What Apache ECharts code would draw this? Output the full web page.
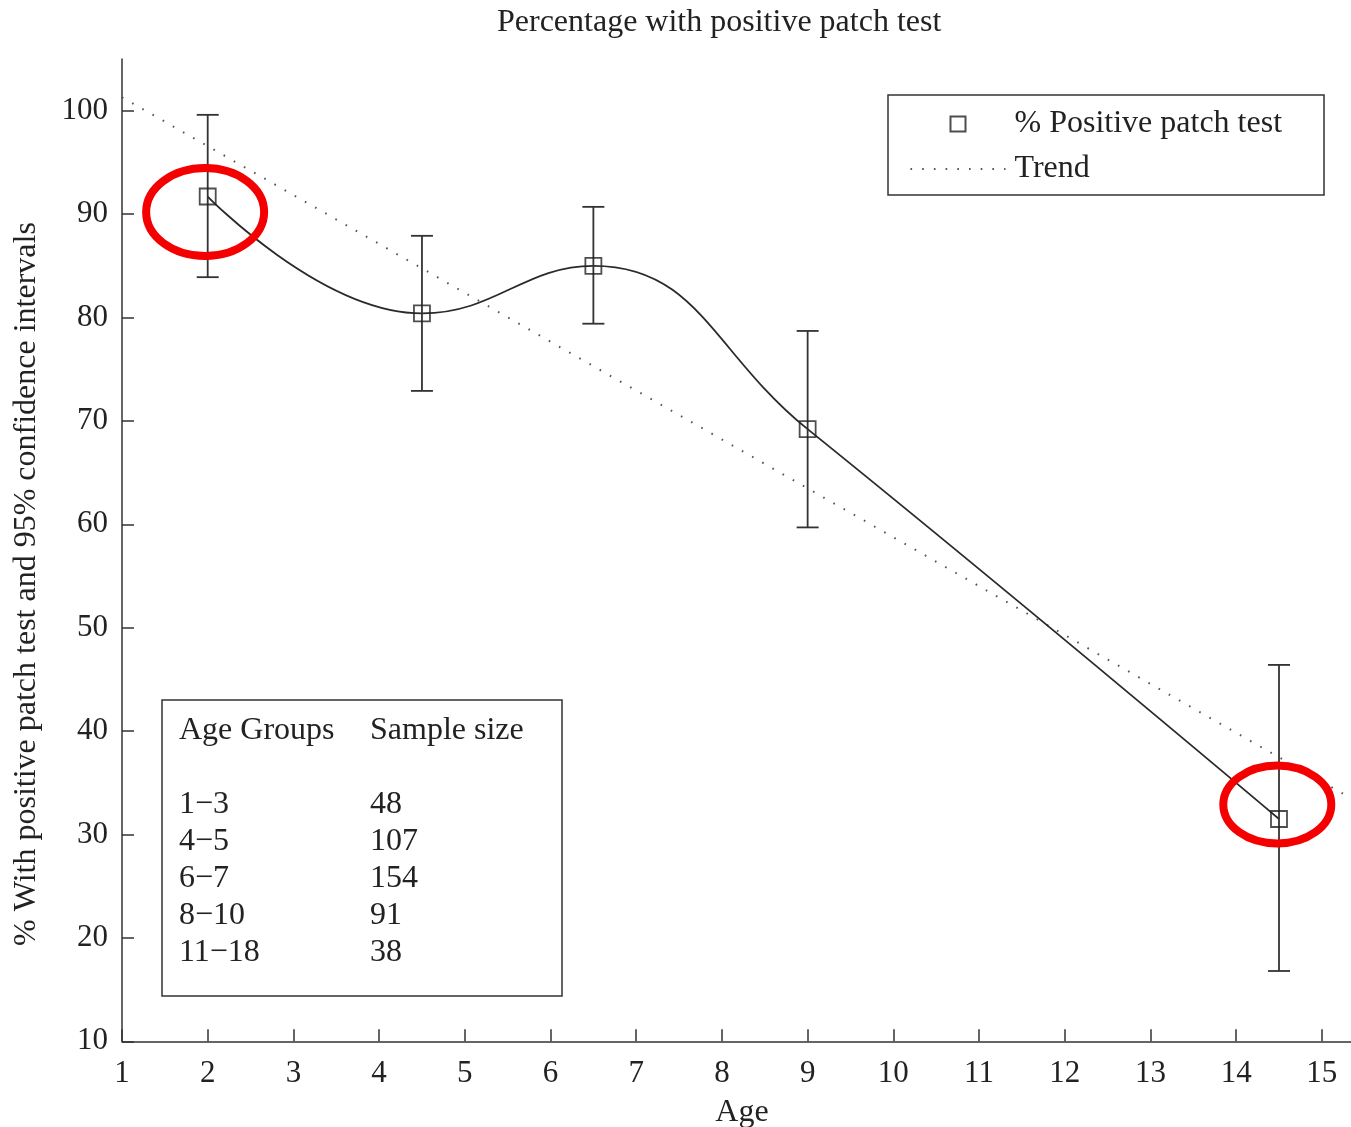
<!DOCTYPE html>
<html>
<head>
<meta charset="utf-8">
<script src="https://cdn.jsdelivr.net/npm/echarts@6/dist/echarts.min.js"></script>
<style>
html,body{margin:0;padding:0;background:#fff;overflow:hidden;}
#chart{width:1351px;height:1127px;}
</style>
</head>
<body>
<div id="chart"></div>
<script>
// ---- data ----
const titleText = 'Percentage with positive patch test';
const xAxisName = 'Age';
const yAxisName = '% With positive patch test and 95% confidence intervals';
const ageMid = [2, 4.5, 6.5, 9, 14.5];
const pctPositive = [91.7, 80.4, 85.0, 69.2, 31.5];
const ciLow = [83.9, 72.9, 79.4, 59.7, 16.8];
const ciHigh = [99.6, 87.9, 90.7, 78.7, 46.4];
const trendX = [1, 15.34];
const trendY = [101.3, 33.5];
const tableHeaders = ['Age Groups', 'Sample size'];
const ageGroups = ['1\u22123', '4\u22125', '6\u22127', '8\u221210', '11\u221218'];
const sampleSizes = [48, 107, 154, 91, 38];
const highlightX = [1.97, 14.48];
const highlightY = [90.2, 32.9];
const seriesNames = ['% Positive patch test', 'Trend'];

// ---- styles ----
const FONT = '"Liberation Serif", "DejaVu Serif", serif';
const INK = '#222';
const ellipseRadii = [[59, 44], [54, 39]];

const chart = echarts.init(document.getElementById('chart'));

const pointData = ageMid.map((x, i) => [x, pctPositive[i]]);
const ciData = ageMid.map((x, i) => [x, ciLow[i], ciHigh[i]]);
const trendData = trendX.map((x, i) => [x, trendY[i]]);
const highlightData = highlightX.map((x, i) => [x, highlightY[i]]);

// table graphics
const tableLeft = 162, tableTop = 700, tableW = 400, tableH = 296;
const col1 = 179, col2 = 370;
const headerY = 731, firstRowY = 805, rowStep = 37;
const tableGraphics = [
  { type: 'rect', shape: { x: tableLeft, y: tableTop, width: tableW, height: tableH },
    style: { fill: '#fff', stroke: '#333', lineWidth: 1.5 }, z: 50 },
  { type: 'text', x: col1, y: headerY, z: 51,
    style: { text: tableHeaders[0], font: '32px ' + FONT, fill: INK, verticalAlign: 'middle' } },
  { type: 'text', x: col2, y: headerY, z: 51,
    style: { text: tableHeaders[1], font: '32px ' + FONT, fill: INK, verticalAlign: 'middle' } }
];
ageGroups.forEach((g, i) => {
  tableGraphics.push({ type: 'text', x: col1, y: firstRowY + i * rowStep, z: 51,
    style: { text: g, font: '32px ' + FONT, fill: INK, verticalAlign: 'middle' } });
  tableGraphics.push({ type: 'text', x: col2, y: firstRowY + i * rowStep, z: 51,
    style: { text: String(sampleSizes[i]), font: '32px ' + FONT, fill: INK, verticalAlign: 'middle' } });
});
tableGraphics.push({ type: 'text', x: 27, y: 584, rotation: Math.PI / 2,
  style: { text: yAxisName, font: '32px ' + FONT, fill: INK, align: 'center', verticalAlign: 'middle' } });

const option = {
  backgroundColor: '#fff',
  animation: false,
  title: {
    text: titleText, left: 497, top: 5, padding: [2, 0],
    textStyle: { fontFamily: FONT, fontSize: 32, fontWeight: 'normal', color: INK }
  },
  legend: {
    data: [
      { name: seriesNames[0], icon: 'path://M0,0H10V10H0Z' },
      { name: seriesNames[1], itemStyle: { opacity: 0 } }
    ],
    orient: 'vertical', left: 888, top: 95,
    padding: [11, 42, 8, 21.5],
    itemWidth: 95, itemHeight: 15, itemGap: 9,
    borderColor: '#333', borderWidth: 1.5, backgroundColor: '#fff',
    selectedMode: false,
    textStyle: { fontFamily: FONT, fontSize: 32, color: INK, lineHeight: 36, padding: [0, 0, 0, 4] }
  },
  grid: { left: 122, right: 0, top: 59, bottom: 85.7, containLabel: false, outerBoundsMode: 'none' },
  xAxis: {
    type: 'value', min: 1, max: 15.34, interval: 1,
    name: xAxisName, nameLocation: 'middle', nameGap: 55,
    nameTextStyle: { fontFamily: FONT, fontSize: 32, color: INK, padding: [0, 0, 0, 11] },
    axisLine: { show: true, onZero: false, lineStyle: { color: '#333', width: 1.5 } },
    axisTick: { show: true, inside: true, length: 12, lineStyle: { color: '#333', width: 1.5 } },
    axisLabel: { fontFamily: FONT, fontSize: 31, color: INK, margin: 17, showMaxLabel: false },
    splitLine: { show: false }
  },
  yAxis: {
    type: 'value', min: 10, max: 105, interval: 10,
    axisLine: { show: true, onZero: false, lineStyle: { color: '#333', width: 1.5 } },
    axisTick: { show: true, inside: true, length: 12, lineStyle: { color: '#333', width: 1.5 } },
    axisLabel: { fontFamily: FONT, fontSize: 31, color: INK, margin: 14, showMaxLabel: false },
    splitLine: { show: false }
  },
  series: [
    {
      name: seriesNames[1], type: 'line', data: trendData, symbol: 'none', z: 1,
      lineStyle: { color: '#555', width: 2, type: [1.6, 10.1] }, itemStyle: { color: '#555' }
    },
    {
      name: 'spline', type: 'line', data: pointData, smooth: 0.45, symbol: 'none', z: 2,
      lineStyle: { color: '#2a2a2a', width: 1.8 }
    },
    {
      name: 'ci', type: 'custom', data: ciData, z: 3,
      encode: { x: 0, y: [1, 2] },
      renderItem: function (params, api) {
        const x = api.value(0);
        const lo = api.coord([x, api.value(1)]);
        const hi = api.coord([x, api.value(2)]);
        const hw = 11;
        const st = { stroke: '#333', lineWidth: 1.8 };
        return { type: 'group', children: [
          { type: 'line', shape: { x1: lo[0], y1: lo[1], x2: hi[0], y2: hi[1] }, style: st },
          { type: 'line', shape: { x1: lo[0] - hw, y1: lo[1], x2: lo[0] + hw, y2: lo[1] }, style: st },
          { type: 'line', shape: { x1: hi[0] - hw, y1: hi[1], x2: hi[0] + hw, y2: hi[1] }, style: st }
        ] };
      }
    },
    {
      name: seriesNames[0], type: 'scatter', data: pointData, symbol: 'rect', symbolSize: 16, z: 4,
      itemStyle: { color: 'rgba(0,0,0,0)', borderColor: '#222', borderWidth: 1.8 }
    },
    {
      name: 'highlight', type: 'custom', data: highlightData, z: 10,
      renderItem: function (params, api) {
        const c = api.coord([api.value(0), api.value(1)]);
        const r = ellipseRadii[params.dataIndex];
        return { type: 'ellipse', shape: { cx: c[0], cy: c[1], rx: r[0], ry: r[1] },
          style: { fill: 'none', stroke: '#f50000', lineWidth: 8 } };
      }
    }
  ],
  graphic: tableGraphics
};
chart.setOption(option);
</script>
</body>
</html>
